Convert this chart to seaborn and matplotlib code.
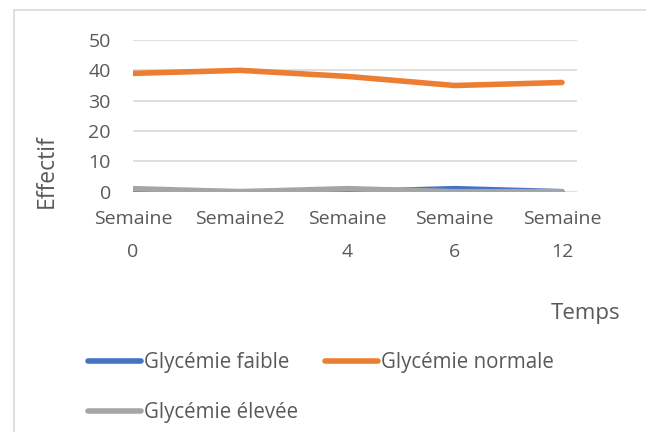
import numpy as np
import pandas as pd
import seaborn as sns
import matplotlib
matplotlib.use("Agg")
import matplotlib.pyplot as plt
from matplotlib.lines import Line2D

# data
semaines = ["Semaine\n0", "Semaine2", "Semaine\n4", "Semaine\n6", "Semaine\n12"]
faible = [0, 0, 0, 1, 0]
normale = [39, 40, 38, 35, 36]
elevee = [1, 0, 1, 0, 0]
series_names = ["Glycémie faible", "Glycémie normale", "Glycémie élevée"]
colors = ["#4472C4", "#ED7D31", "#A5A5A5"]

df = pd.DataFrame({
    "pos": np.tile(np.arange(len(semaines)), 3),
    "effectif": faible + normale + elevee,
    "serie": np.repeat(series_names, len(semaines)),
})

sns.set_theme(style="white")
plt.rcParams["font.family"] = ["Open Sans", "DejaVu Sans"]
text_col = "#595959"
fs = 14

fig = plt.figure(figsize=(6.46, 4.32), dpi=100)
ax = fig.add_axes([133 / 646, 1 - 191.7 / 432, (577 - 133) / 646, (191.7 - 40) / 432])

sns.lineplot(data=df, x="pos", y="effectif", hue="serie", hue_order=series_names,
             palette=colors, linewidth=4, ax=ax, legend=False,
             solid_capstyle="round", solid_joinstyle="round")

ax.set_xlim(0, 4.14)
ax.set_ylim(0, 50)
ax.set_yticks(range(0, 51, 10))
ax.yaxis.grid(True, color="#d9d9d9", linewidth=1.2)
ax.set_axisbelow(True)
ax.set_xticks(range(len(semaines)))
ax.set_xticklabels(semaines, linespacing=2.1)
ax.tick_params(axis="x", length=0, pad=13, labelsize=fs, labelcolor=text_col)
ax.tick_params(axis="y", length=0, pad=16, labelsize=fs, labelcolor=text_col)
for s in ax.spines.values():
    s.set_visible(False)
ax.set_xlabel("")
ax.set_ylabel("")

fig.text(47 / 646, 1 - 171 / 432, "Effectif", rotation=90, ha="center", va="center",
         fontsize=16.5, color=text_col)
fig.text(586 / 646, 1 - 314 / 432, "Temps", ha="center", va="center",
         fontsize=16, color=text_col)

# legend fills column by column: order so that row 1 = faible, normale
handles = [Line2D([], [], color=c, linewidth=4, solid_capstyle="round") for c in colors]
order = [0, 2, 1]
leg = fig.legend([handles[i] for i in order], [series_names[i] for i in order],
                 ncol=2, loc="upper left",
                 bbox_to_anchor=(88 / 646, 1 - 352 / 432), frameon=False,
                 fontsize=14.8, handlelength=2.6, handletextpad=0.12,
                 labelspacing=1.4, columnspacing=1.3, borderaxespad=0, borderpad=0)
for t in leg.get_texts():
    t.set_color(text_col)

# light chart border (left and top edges visible)
fig.add_artist(Line2D([14 / 646, 14 / 646], [0, 1 - 10 / 432], transform=fig.transFigure,
                      color="#d9d9d9", linewidth=1.2))
fig.add_artist(Line2D([14 / 646, 1], [1 - 10 / 432, 1 - 10 / 432], transform=fig.transFigure,
                      color="#d9d9d9", linewidth=1.2))

fig.savefig("out.png", dpi=100)
